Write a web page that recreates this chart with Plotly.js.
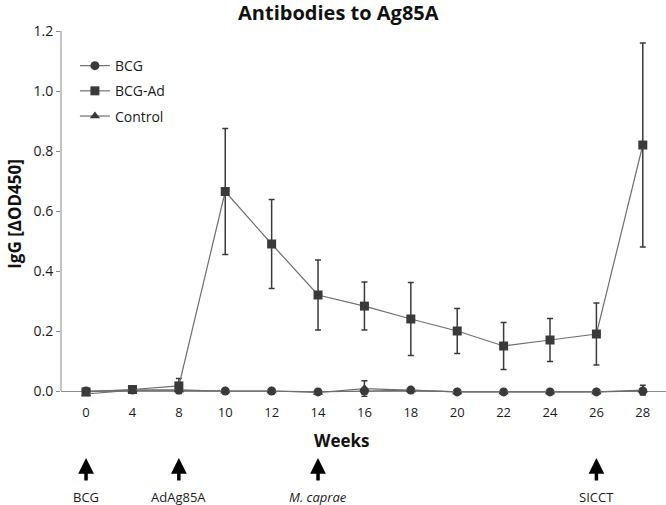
<!DOCTYPE html>
<html>
<head>
<meta charset="utf-8">
<script src="https://cdn.plot.ly/plotly-3.0.1.min.js"></script>
<style>
  html, body { margin: 0; padding: 0; background: #fff; }
  #chart { width: 666px; height: 505px; }
</style>
</head>
<body>
<div id="chart"></div>
<script>
// weeks after start (category axis, evenly spaced)
const weeks = ['0', '4', '8', '10', '12', '14', '16', '18', '20', '22', '24', '26', '28'];

// IgG [dOD450] per group
const bcg = [0.000, 0.003, 0.003, 0.000, 0.000, -0.003, 0.000, 0.003, -0.003, -0.003, -0.003, -0.003, 0.000];
const bcgErr = [0.003, 0.003, 0.003, 0.002, 0.002, 0.003, 0.003, 0.002, 0.002, 0.002, 0.002, 0.002, 0.003];

const bcgAd = [-0.003, 0.005, 0.017, 0.665, 0.49, 0.32, 0.283, 0.24, 0.2, 0.15, 0.17, 0.19, 0.82];
const bcgAdErr = [0.004, 0.004, 0.025, 0.21, 0.148, 0.117, 0.08, 0.122, 0.075, 0.078, 0.072, 0.103, 0.34];

const control = [-0.01, 0.003, 0.003, 0.000, 0.000, -0.005, 0.008, 0.003, -0.003, -0.003, -0.003, -0.003, 0.003];
const controlErr = [0.004, 0.003, 0.003, 0.002, 0.002, 0.004, 0.026, 0.002, 0.002, 0.002, 0.002, 0.002, 0.016];

// events marked with arrows under the axis
const eventWeeks = ['0', '8', '14', '26'];
const eventLabels = ['BCG', 'AdAg85A', '<i>M. caprae</i>', 'SICCT'];

const markCol = '#3a3a3a';
const lineCol = '#6e6e6e';
const axisCol = '#8a8a8a';
const fnt = '"Open Sans", sans-serif';

function serie(nombre, ys, err, simbolo, grupo) {
    return {
        type: 'scatter', mode: 'lines+markers',
        x: weeks, y: ys, name: nombre, legendgroup: grupo,
        line: { color: lineCol, width: 1.2 },
        marker: { symbol: simbolo, size: 9, color: markCol },
        error_y: { type: 'data', array: err, visible: true, color: markCol, thickness: 1.5, width: 3 },
        cliponaxis: false
    };
}

const data = [
    serie('BCG', bcg, bcgErr, 'circle', 'a'),
    serie('BCG-Ad', bcgAd, bcgAdErr, 'square', 'b'),
    serie('Control', control, controlErr, 'triangle-up', 'c')
];

// arrows + labels below the plot (category index on the x axis)
const anotaciones = eventWeeks.map((w, i) => ({
    x: weeks.indexOf(w), xref: 'x',
    y: -0.1667, yref: 'paper',
    text: eventLabels[i],
    showarrow: true,
    ax: 0, ay: 39,
    startstandoff: 6,
    arrowhead: 2, arrowsize: 0.9, arrowwidth: 3.5, arrowcolor: '#000',
    font: { family: fnt, size: 13, color: '#1a1a1a' }
}));

// x axis title, sits a bit left of the plot centre like the original
anotaciones.push({
    text: '<b>Weeks</b>', showarrow: false,
    x: 0.464, xref: 'paper', xanchor: 'center',
    y: -0.12, yref: 'paper', yanchor: 'middle',
    font: { family: fnt, size: 17, color: '#111' }
});

const layout = {
    width: 666, height: 505,
    margin: { l: 61, r: 0, t: 31, b: 108 },
    paper_bgcolor: '#fff', plot_bgcolor: '#fff',
    font: { family: fnt, color: '#262626' },
    title: {
        text: '<b>Antibodies to Ag85A</b>',
        x: 0.508, xref: 'container', xanchor: 'center',
        y: 0.975, yref: 'container', yanchor: 'middle',
        font: { family: fnt, size: 20, color: '#111' }
    },
    xaxis: {
        type: 'category',
        range: [-0.54, 12.5],
        showline: false,
        ticks: '', showgrid: false, zeroline: false,
        tickfont: { family: fnt, size: 13, color: '#1a1a1a' },
        ticklabelstandoff: 6
    },
    yaxis: {
        range: [-0.02, 1.2],
        tickvals: [0, 0.2, 0.4, 0.6, 0.8, 1.0, 1.2],
        ticktext: ['0.0', '0.2', '0.4', '0.6', '0.8', '1.0', '1.2'],
        showline: false,
        ticks: 'outside', ticklen: 4, tickcolor: axisCol,
        showgrid: false,
        zeroline: true, zerolinecolor: axisCol, zerolinewidth: 1,
        tickfont: { family: fnt, size: 14, color: '#1a1a1a' },
        title: { text: '<b>IgG [ΔOD450]</b>', font: { family: fnt, size: 17, color: '#111' }, standoff: 7 }
    },
    shapes: [{
        type: 'line', xref: 'paper', yref: 'y',
        x0: 0, x1: 0, y0: 0, y1: 1.2,
        line: { color: axisCol, width: 1 }, layer: 'below'
    }],
    showlegend: true,
    legend: {
        x: 0.023, y: 0.948, xanchor: 'left', yanchor: 'top',
        traceorder: 'grouped', tracegroupgap: 4,
        bgcolor: 'rgba(0,0,0,0)',
        font: { family: fnt, size: 14, color: '#1a1a1a' }
    },
    annotations: anotaciones
};

Plotly.newPlot('chart', data, layout, { displayModeBar: false, staticPlot: true });
</script>
</body>
</html>
